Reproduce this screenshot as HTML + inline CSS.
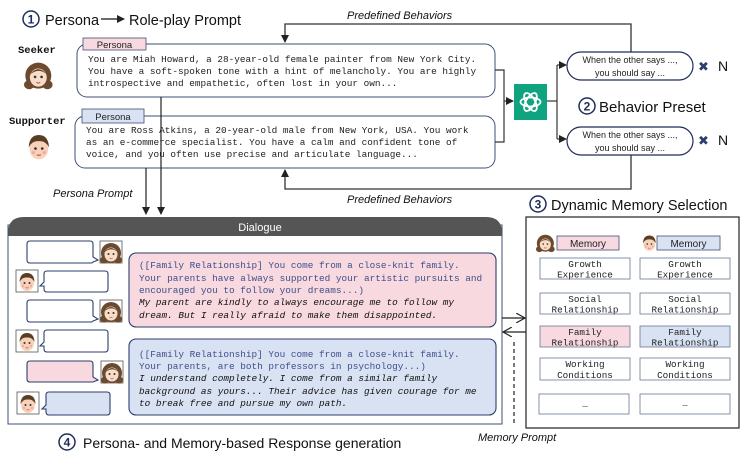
<!DOCTYPE html>
<html><head><meta charset="utf-8"><style>
html,body{margin:0;padding:0;background:#fff;}
svg{display:block;}
.sans{font-family:"Liberation Sans","DejaVu Sans",sans-serif;}
.mono{font-family:"Liberation Mono","DejaVu Sans Mono",monospace;}
</style></head><body>
<svg width="747" height="456" viewBox="0 0 747 456" xmlns="http://www.w3.org/2000/svg">
<defs>
<marker id="ah" markerWidth="8" markerHeight="8" refX="7" refY="4" orient="auto" markerUnits="userSpaceOnUse">
<path d="M0,0 L8,4 L0,8 Z" fill="#222"/></marker>
<marker id="oh" markerWidth="10" markerHeight="10" refX="9" refY="5" orient="auto" markerUnits="userSpaceOnUse">
<path d="M0,0 L9,5 L0,10" fill="none" stroke="#222" stroke-width="1.2"/></marker>
<g id="girl">
<ellipse cx="11" cy="12" rx="10" ry="10" fill="#6b4a2f"/>
<ellipse cx="4" cy="19" rx="4" ry="3.5" fill="#6b4a2f"/>
<ellipse cx="18" cy="19" rx="4" ry="3.5" fill="#6b4a2f"/>
<ellipse cx="11" cy="13.5" rx="6.5" ry="7" fill="#f7dcc8"/>
<path d="M4.5,11 Q11,3 17.5,11 Q13,7 8,9 Z" fill="#6b4a2f"/>
<circle cx="8.5" cy="13" r="1" fill="#333"/><circle cx="13.5" cy="13" r="1" fill="#333"/>
<path d="M9.5,17 Q11,18.5 12.5,17" stroke="#c55" fill="none" stroke-width="0.8"/>
</g>
<g id="boy">
<ellipse cx="11" cy="13" rx="7" ry="8" fill="#f7d2b8"/>
<path d="M3.5,12 Q4,3 11,3 Q18,3 18.5,12 Q16,7 11,7.5 Q6,7 3.5,12 Z" fill="#5a3d25"/>
<circle cx="8.5" cy="13" r="1" fill="#333"/><circle cx="13.5" cy="13" r="1" fill="#333"/>
<path d="M9.5,17.5 Q11,18.5 12.5,17.5" stroke="#c55" fill="none" stroke-width="0.8"/>
<circle cx="7" cy="16" r="1.2" fill="#f3a9a0"/><circle cx="15" cy="16" r="1.2" fill="#f3a9a0"/>
</g>
</defs>

<!-- Title 1 -->
<circle cx="31" cy="19" r="8" fill="none" stroke="#1f2d5a" stroke-width="1.5"/>
<text x="31" y="23.5" text-anchor="middle" class="sans" font-size="12" font-weight="bold" fill="#1f2d5a">1</text>
<text x="45" y="25" class="sans" font-size="14.5" fill="#111">Persona</text>
<line x1="101" y1="19" x2="124" y2="19" stroke="#111" stroke-width="1.3" marker-end="url(#ah)"/>
<text x="129" y="25" class="sans" font-size="14.5" fill="#111">Role-play Prompt</text>

<text x="18" y="53" class="mono" font-size="10.5" font-weight="bold" fill="#111">Seeker</text>
<use href="#girl" transform="translate(24,60) scale(1.3)"/>
<text x="9" y="124" class="mono" font-size="10.5" font-weight="bold" fill="#111">Supporter</text>
<use href="#boy" transform="translate(24,131) scale(1.35)"/>

<!-- Predefined behaviors lines -->
<text x="347" y="19" class="sans" font-size="11" font-style="italic" fill="#111">Predefined Behaviors</text>
<polyline points="631,52 631,24 285,24 285,42" fill="none" stroke="#333" stroke-width="1.3" marker-end="url(#ah)"/>
<polyline points="631,155 631,189 285,189 285,170" fill="none" stroke="#333" stroke-width="1.3" marker-end="url(#ah)"/>
<text x="347" y="203" class="sans" font-size="11" font-style="italic" fill="#111">Predefined Behaviors</text>

<!-- Persona boxes -->
<rect x="77" y="44" width="418" height="53" rx="10" fill="#fff" stroke="#3f4f74" stroke-width="1"/>
<rect x="83" y="38" width="63" height="12" fill="#f7d9df" stroke="#3f4f74" stroke-width="0.8"/>
<text x="114.5" y="48" text-anchor="middle" class="sans" font-size="9.5" fill="#222">Persona</text>
<g class="mono" font-size="9.4" fill="#222">
<text x="88" y="62">You are Miah Howard, a 28-year-old female painter from New York City.</text>
<text x="88" y="74">You have a soft-spoken tone with a hint of melancholy. You are highly</text>
<text x="88" y="86">introspective and empathetic, often lost in your own...</text>
</g>
<rect x="75" y="116" width="420" height="52" rx="10" fill="#fff" stroke="#3f4f74" stroke-width="1"/>
<rect x="82" y="109" width="62" height="14" fill="#d9e2f3" stroke="#3f4f74" stroke-width="0.8"/>
<text x="113" y="120" text-anchor="middle" class="sans" font-size="9.5" fill="#222">Persona</text>
<g class="mono" font-size="9.4" fill="#222">
<text x="86" y="133">You are Ross Atkins, a 20-year-old male from New York, USA. You work</text>
<text x="86" y="145">as an e-commerce specialist. You have a calm and confident tone of</text>
<text x="86" y="157">voice, and you often use precise and articulate language...</text>
</g>

<!-- to GPT -->
<polyline points="495,70 504,70 504,142 495,142" fill="none" stroke="#333" stroke-width="1.2"/>
<line x1="504" y1="101" x2="513" y2="101" stroke="#333" stroke-width="1.2" marker-end="url(#ah)"/>
<rect x="514" y="84" width="33" height="36" fill="#10a37f"/>
<g transform="translate(530.5,102)" fill="none" stroke="#fff" stroke-width="1.8">
<ellipse rx="10" ry="4.5"/><ellipse rx="10" ry="4.5" transform="rotate(60)"/><ellipse rx="10" ry="4.5" transform="rotate(120)"/>
</g>
<line x1="547" y1="101" x2="557" y2="101" stroke="#333" stroke-width="1.2"/>
<line x1="557" y1="65" x2="557" y2="139" stroke="#333" stroke-width="1.2"/>
<line x1="557" y1="65" x2="566" y2="65" stroke="#333" stroke-width="1.2" marker-end="url(#ah)"/>
<line x1="557" y1="139" x2="566" y2="139" stroke="#333" stroke-width="1.2" marker-end="url(#ah)"/>
<rect x="567" y="52" width="126" height="28" rx="14" fill="#fff" stroke="#1f2d5a" stroke-width="1.2"/>
<text x="630" y="63" text-anchor="middle" class="sans" font-size="9" fill="#222">When the other says ...,</text>
<text x="630" y="76" text-anchor="middle" class="sans" font-size="9" fill="#222">you should say ...</text>
<rect x="567" y="127" width="126" height="28" rx="14" fill="#fff" stroke="#1f2d5a" stroke-width="1.2"/>
<text x="630" y="138" text-anchor="middle" class="sans" font-size="9" fill="#222">When the other says ...,</text>
<text x="630" y="151" text-anchor="middle" class="sans" font-size="9" fill="#222">you should say ...</text>
<text x="698" y="71" class="sans" font-size="13" fill="#2d3e6e">✖</text>
<text x="718" y="71" class="sans" font-size="14" fill="#111">N</text>
<text x="698" y="145" class="sans" font-size="13" fill="#2d3e6e">✖</text>
<text x="718" y="145" class="sans" font-size="14" fill="#111">N</text>
<circle cx="587" cy="106" r="8" fill="none" stroke="#1f2d5a" stroke-width="1.5"/>
<text x="587" y="110.5" text-anchor="middle" class="sans" font-size="12" font-weight="bold" fill="#1f2d5a">2</text>
<text x="599" y="112" class="sans" font-size="15" fill="#111">Behavior Preset</text>

<!-- persona prompt lines -->
<text x="53" y="197" class="sans" font-size="11" font-style="italic" fill="#111">Persona Prompt</text>
<line x1="146" y1="168" x2="146" y2="214" stroke="#222" stroke-width="1.2" marker-end="url(#ah)"/>
<line x1="161" y1="97" x2="161" y2="214" stroke="#222" stroke-width="1.2" marker-end="url(#ah)"/>

<!-- Dialogue -->
<rect x="8" y="225" width="494" height="199" fill="#fff" stroke="#3f4f74" stroke-width="1"/>
<path d="M8,236 L8,233 Q8,217 24,217 L486,217 Q502,217 502,233 L502,236 Z" fill="#555"/>
<text x="260" y="231" text-anchor="middle" class="sans" font-size="11" fill="#fff">Dialogue</text>

<!-- bubbles -->
<g stroke="#2d3e6e" stroke-width="1.1">
<path d="M30,241 H90 Q93,241 93,244 V257 L98,260 L93,262 Q93,263 90,263 H30 Q27,263 27,260 V244 Q27,241 30,241 Z" fill="#fff"/>
<path d="M47,271 H105 Q108,271 108,274 V289 Q108,292 105,292 H47 Q44,292 44,289 V286 L40,286 L44,282 V274 Q44,271 47,271 Z" fill="#fff"/>
<path d="M30,300 H90 Q93,300 93,303 V316 L98,319 L93,321 Q93,322 90,322 H30 Q27,322 27,319 V303 Q27,300 30,300 Z" fill="#fff"/>
<path d="M47,330 H105 Q108,330 108,333 V349 Q108,352 105,352 H47 Q44,352 44,349 V346 L40,346 L44,342 V333 Q44,330 47,330 Z" fill="#fff"/>
<path d="M30,361 H90 Q93,361 93,364 V377 L98,380 L93,382 Q93,382 90,382 H30 Q27,382 27,379 V364 Q27,361 30,361 Z" fill="#f7d9df"/>
<path d="M49,392 H107 Q110,392 110,395 V412 Q110,415 107,415 H49 Q46,415 46,412 V409 L42,409 L46,405 V395 Q46,392 49,392 Z" fill="#d9e2f3"/>
</g>
<g stroke="#555" stroke-width="0.8" fill="#fff">
<rect x="100" y="241" width="22" height="22"/><rect x="16" y="270" width="22" height="22"/>
<rect x="100" y="300" width="22" height="22"/><rect x="16" y="330" width="22" height="22"/>
<rect x="101" y="361" width="22" height="22"/><rect x="17" y="392" width="22" height="22"/>
</g>
<use href="#girl" x="100" y="241"/><use href="#boy" x="16" y="270"/>
<use href="#girl" x="100" y="300"/><use href="#boy" x="16" y="330"/>
<use href="#girl" x="101" y="361"/><use href="#boy" x="17" y="392"/>

<rect x="129" y="253" width="367" height="74" rx="7" fill="#f7d9df" stroke="#2d3e6e" stroke-width="1.1"/>
<g class="mono" font-size="9.4">
<text x="139" y="268" fill="#3f4f8a">([Family Relationship] You come from a close-knit family.</text>
<text x="139" y="281" fill="#3f4f8a">Your parents have always supported your artistic pursuits and</text>
<text x="139" y="293" fill="#3f4f8a">encouraged you to follow your dreams...)</text>
<text x="139" y="305" fill="#111" font-style="italic">My parent are kindly to always encourage me to follow my</text>
<text x="139" y="318" fill="#111" font-style="italic">dream. But I really afraid to make them disappointed.</text>
</g>
<rect x="129" y="339" width="367" height="76" rx="7" fill="#d9e2f3" stroke="#2d3e6e" stroke-width="1.1"/>
<g class="mono" font-size="9.4">
<text x="139" y="357" fill="#3f4f8a">([Family Relationship] You come from a close-knit family.</text>
<text x="139" y="369" fill="#3f4f8a">Your parents, are both professors in psychology...)</text>
<text x="139" y="381" fill="#111" font-style="italic">I understand completely. I come from a similar family</text>
<text x="139" y="394" fill="#111" font-style="italic">background as yours... Their advice has given courage for me</text>
<text x="139" y="406" fill="#111" font-style="italic">to break free and pursue my own path.</text>
</g>

<circle cx="67" cy="442" r="8" fill="none" stroke="#1f2d5a" stroke-width="1.5"/>
<text x="67" y="446.5" text-anchor="middle" class="sans" font-size="12" font-weight="bold" fill="#1f2d5a">4</text>
<text x="83" y="448" class="sans" font-size="14" fill="#111">Persona- and Memory-based Response generation</text>

<!-- Memory -->
<circle cx="538" cy="204" r="8" fill="none" stroke="#1f2d5a" stroke-width="1.5"/>
<text x="538" y="208.5" text-anchor="middle" class="sans" font-size="12" font-weight="bold" fill="#1f2d5a">3</text>
<text x="551" y="210" class="sans" font-size="14.5" fill="#111">Dynamic Memory Selection</text>
<rect x="526" y="217" width="213" height="211" fill="#fff" stroke="#222" stroke-width="1.2"/>
<use href="#girl" transform="translate(536,233) scale(0.85)"/>
<rect x="557" y="236" width="62" height="14" fill="#f7d9df" stroke="#3f4f74" stroke-width="0.8"/>
<text x="588" y="247" text-anchor="middle" class="sans" font-size="10" fill="#222">Memory</text>
<use href="#boy" transform="translate(640,233) scale(0.85)"/>
<rect x="657" y="236" width="63" height="14" fill="#d9e2f3" stroke="#3f4f74" stroke-width="0.8"/>
<text x="688.5" y="247" text-anchor="middle" class="sans" font-size="10" fill="#222">Memory</text>
<g stroke="#6a7797" stroke-width="0.8">
<rect x="540" y="258" width="90" height="21" fill="#fff"/><rect x="640" y="258" width="90" height="21" fill="#fff"/>
<rect x="540" y="293" width="90" height="21" fill="#fff"/><rect x="640" y="293" width="90" height="21" fill="#fff"/>
<rect x="540" y="326" width="90" height="21" fill="#f7d9df"/><rect x="640" y="326" width="90" height="21" fill="#d9e2f3"/>
<rect x="540" y="358" width="90" height="22" fill="#fff"/><rect x="640" y="358" width="90" height="22" fill="#fff"/>
<rect x="539" y="394" width="90" height="20" fill="#fff"/><rect x="640" y="394" width="90" height="20" fill="#fff"/>
</g>
<g class="mono" font-size="9.3" fill="#222" text-anchor="middle">
<text x="585" y="267">Growth</text><text x="585" y="277.5">Experience</text>
<text x="685" y="267">Growth</text><text x="685" y="277.5">Experience</text>
<text x="585" y="302">Social</text><text x="585" y="312.5">Relationship</text>
<text x="685" y="302">Social</text><text x="685" y="312.5">Relationship</text>
<text x="585" y="335">Family</text><text x="585" y="345.5">Relationship</text>
<text x="685" y="335">Family</text><text x="685" y="345.5">Relationship</text>
<text x="585" y="367">Working</text><text x="585" y="378">Conditions</text>
<text x="685" y="367">Working</text><text x="685" y="378">Conditions</text>
<text x="585" y="406">_</text><text x="685" y="406">…</text>
</g>
<line x1="502" y1="318" x2="525" y2="318" stroke="#222" stroke-width="1.2" marker-end="url(#oh)"/>
<line x1="526" y1="332" x2="503" y2="332" stroke="#222" stroke-width="1.2" marker-end="url(#oh)"/>
<line x1="514" y1="342" x2="514" y2="426" stroke="#222" stroke-width="1.2" stroke-dasharray="4,3"/>
<text x="478" y="441" class="sans" font-size="11" font-style="italic" fill="#111">Memory Prompt</text>
</svg>
</body></html>
